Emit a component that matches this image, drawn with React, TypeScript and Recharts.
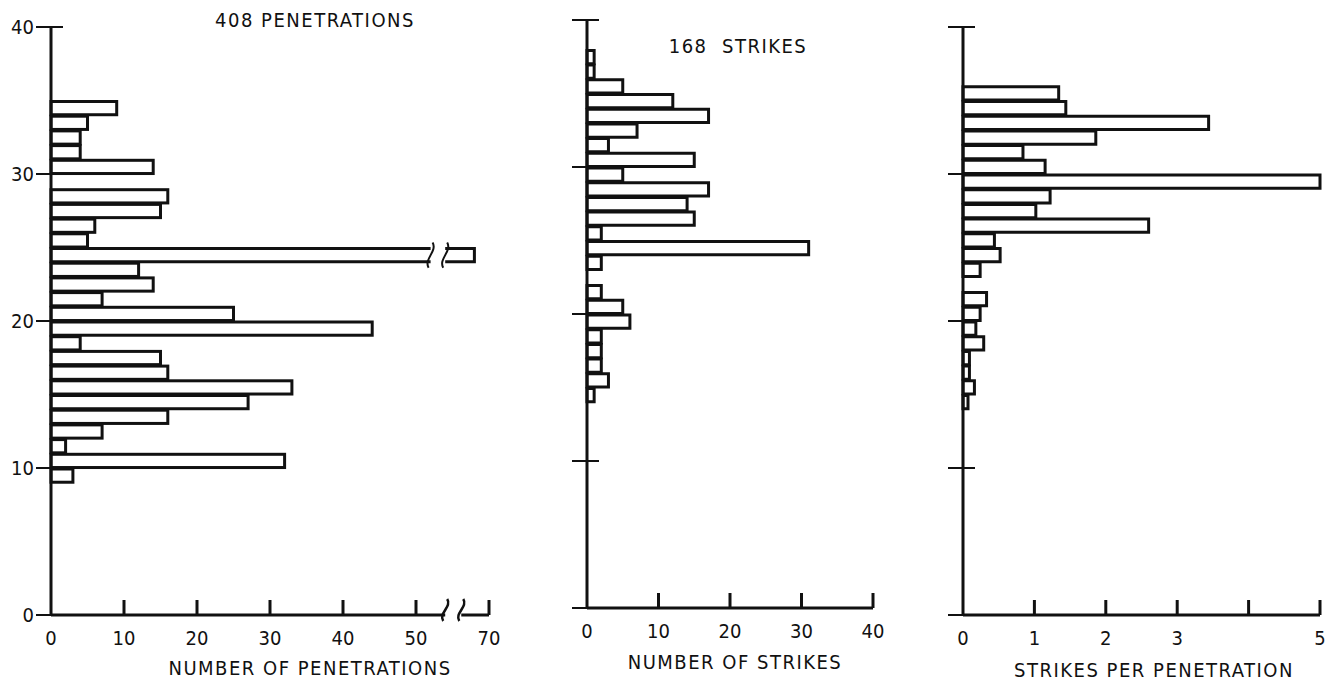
import React from 'react';
import { BarChart, Bar, XAxis, YAxis, ReferenceLine, ReferenceDot } from 'recharts';

// ---------- data (bins of 1 unit, labelled by lower edge) ----------
const binStart = [9, 10, 11, 12, 13, 14, 15, 16, 17, 18, 19, 20, 21, 22, 23, 24, 25, 26, 27, 28, 29, 30, 31, 32, 33, 34, 35, 36, 37];
const penetrations = [3, 32, 2, 7, 16, 27, 33, 16, 15, 4, 44, 25, 7, 14, 12, 68, 5, 6, 15, 16, 0, 14, 4, 4, 5, 9, 0, 0, 0];
const strikes = [0, 0, 0, 0, 0, 1, 3, 2, 2, 2, 6, 5, 2, 0, 2, 31, 2, 15, 14, 17, 5, 15, 3, 7, 17, 12, 5, 1, 1];
const strikesPerPenetration = [0, 0, 0, 0, 0, 0.07, 0.16, 0.09, 0.09, 0.29, 0.18, 0.24, 0.33, 0, 0.24, 0.52, 0.44, 2.6, 1.02, 1.22, 5.0, 1.15, 0.84, 1.86, 3.44, 1.44, 1.34, 0, 0];

const yTicks = [0, 10, 20, 30, 40];
const penTickValues = [0, 10, 20, 30, 40, 50, 70];
const strikeTickValues = [0, 10, 20, 30, 40];
const ratioTickValues = [0, 1, 2, 3, 4, 5];
const ratioTickLabels = ['0', '1', '2', '3', '', '5'];

const titles = {
  pen: '408 PENETRATIONS',
  strikes: '168\u00a0\u00a0STRIKES',
  penAxis: 'NUMBER OF PENETRATIONS',
  strikesAxis: 'NUMBER OF STRIKES',
  ratioAxis: 'STRIKES PER PENETRATION',
};

// broken axis on the penetration chart: values beyond the break are shifted down by 10
const BREAK_AT = 55;
const BREAK_SHIFT = 10;
const toPlot = (v: number) => (v > BREAK_AT ? v - BREAK_SHIFT : v);
const fromPlot = (v: number) => (v > BREAK_AT ? v + BREAK_SHIFT : v);

const penData = binStart.map((b, i) => ({ mid: b + 0.5, value: penetrations[i] ? toPlot(penetrations[i]) : null, raw: penetrations[i] }));
const strikeData = binStart.map((b, i) => ({ mid: b + 0.5, value: strikes[i] || null }));
const ratioData = binStart.map((b, i) => ({ mid: b + 0.5, value: strikesPerPenetration[i] || null }));

const FONT = "'DejaVu Sans Condensed', 'DejaVu Sans', sans-serif";
const INK = '#111';
const PLOT_H = 588;
const BAR = PLOT_H / 40;

const makeYTick = (showLabel: boolean, both: number[]) => (props: any) => {
  const { x, y, payload } = props;
  const v = payload.value;
  const right = both.includes(v) ? 12 : 0;
  return (
    <g>
      <line x1={x - 15} x2={x + right} y1={y} y2={y} stroke={INK} strokeWidth={2} />
      {showLabel && (
        <text x={x - 17} y={y} textAnchor="end" dominantBaseline="central" fontFamily={FONT} fontSize={20} fill={INK} style={{ fontStretch: 'condensed' }}>
          {v}
        </text>
      )}
    </g>
  );
};

const makeXTick = (labelFor: (v: number) => string) => (props: any) => {
  const { x, y, payload } = props;
  const v = payload.value;
  return (
    <g>
      {v !== 0 && <line x1={x} x2={x} y1={y} y2={y - 15} stroke={INK} strokeWidth={3} />}
      <text x={x} y={y + 30} textAnchor="middle" fontFamily={FONT} fontSize={20} fill={INK} style={{ fontStretch: 'condensed' }}>
        {labelFor(v)}
      </text>
    </g>
  );
};

const sCurve = (cx: number, top: number, bottom: number, k = 1) => {
  const h = bottom - top;
  return `M ${cx + 2 * k} ${top} C ${cx + 7 * k} ${top + h * 0.35} ${cx - 7 * k} ${top + h * 0.65} ${cx - 2 * k} ${bottom}`;
};

const PenBarShape = (props: any) => {
  const { x, y, width, height, payload } = props;
  if (!width || !height) return null;
  if (payload.raw > BREAK_AT) {
    const ppu = width / payload.value;
    const b1 = x + 52 * ppu;
    const b2 = x + 54 * ppu;
    return (
      <g>
        <rect x={x} y={y} width={width} height={height} fill="#fff" stroke="none" />
        <path d={`M ${b1} ${y} H ${x} V ${y + height} H ${b1}`} fill="none" stroke={INK} strokeWidth={3} />
        <path d={`M ${b2} ${y} H ${x + width} V ${y + height} H ${b2}`} fill="none" stroke={INK} strokeWidth={3} />
        <path d={sCurve(b1, y - 6, y + height + 6)} fill="none" stroke={INK} strokeWidth={2} />
        <path d={sCurve(b2, y - 6, y + height + 6)} fill="none" stroke={INK} strokeWidth={2} />
      </g>
    );
  }
  return <rect x={x} y={y} width={width} height={height} fill="#fff" stroke={INK} strokeWidth={3} />;
};

const AxisBreak = (props: any) => {
  const { cx, cy } = props;
  return <path d={sCurve(cx, cy - 16, cy + 6)} fill="none" stroke={INK} strokeWidth={2.5} />;
};

const titleStyle = (left: number, top: number): React.CSSProperties => ({
  position: 'absolute',
  left,
  top,
  transform: 'translate(-50%, -50%)',
  fontFamily: FONT,
  fontStretch: 'condensed',
  fontSize: 20,
  letterSpacing: 1.5,
  whiteSpace: 'pre',
  color: INK,
});

export default function App() {
  return (
    <div style={{ position: 'absolute', left: 0, top: 0, width: 1330, height: 684, background: '#fff', overflow: 'hidden' }}>
      {/* Panel 1: penetrations */}
      <div style={{ position: 'absolute', left: 0, top: 0 }}>
        <BarChart width={520} height={684} data={penData} layout="vertical" margin={{ top: 27, bottom: 19, left: 6, right: 31 }}>
          <XAxis
            type="number"
            dataKey="value"
            domain={[0, 60]}
            ticks={penTickValues.map(toPlot)}
            interval={0}
            axisLine={false}
            tickLine={false}
            tickSize={0}
            tickMargin={0}
            height={50}
            tick={makeXTick((v) => String(fromPlot(v)))}
          />
          <YAxis
            type="number"
            dataKey="mid"
            domain={[0, 40]}
            reversed
            ticks={yTicks}
            interval={0}
            width={45}
            axisLine={{ stroke: INK, strokeWidth: 3 }}
            tickLine={false}
            tickSize={0}
            tickMargin={0}
            tick={makeYTick(true, [40])}
          />
          <ReferenceLine segment={[{ x: 0, y: 0 }, { x: 54, y: 0 }]} stroke={INK} strokeWidth={3} />
          <ReferenceLine segment={[{ x: 56.2, y: 0 }, { x: 60, y: 0 }]} stroke={INK} strokeWidth={3} />
          <ReferenceDot x={54} y={0} r={1} shape={AxisBreak} />
          <ReferenceDot x={56.2} y={0} r={1} shape={AxisBreak} />
          <Bar dataKey="value" barSize={BAR} isAnimationActive={false} shape={PenBarShape} />
        </BarChart>
      </div>

      {/* Panel 2: strikes */}
      <div style={{ position: 'absolute', left: 530, top: 0 }}>
        <BarChart width={380} height={684} data={strikeData} layout="vertical" margin={{ top: 20, bottom: 26, left: 12, right: 37 }}>
          <XAxis
            type="number"
            dataKey="value"
            domain={[0, 40]}
            ticks={strikeTickValues}
            interval={0}
            axisLine={{ stroke: INK, strokeWidth: 3 }}
            tickLine={false}
            tickSize={0}
            tickMargin={0}
            height={50}
            tick={makeXTick((v) => String(v))}
          />
          <YAxis
            type="number"
            dataKey="mid"
            domain={[0, 40]}
            reversed
            ticks={yTicks}
            interval={0}
            width={45}
            axisLine={{ stroke: INK, strokeWidth: 3 }}
            tickLine={false}
            tickSize={0}
            tickMargin={0}
            tick={makeYTick(false, [40, 10])}
          />
          <Bar dataKey="value" barSize={BAR} fill="#fff" stroke={INK} strokeWidth={3} isAnimationActive={false} />
        </BarChart>
      </div>

      {/* Panel 3: strikes per penetration */}
      <div style={{ position: 'absolute', left: 910, top: 0 }}>
        <BarChart width={420} height={684} data={ratioData} layout="vertical" margin={{ top: 27, bottom: 19, left: 8, right: 10 }}>
          <XAxis
            type="number"
            dataKey="value"
            domain={[0, 5]}
            ticks={ratioTickValues}
            interval={0}
            axisLine={{ stroke: INK, strokeWidth: 3 }}
            tickLine={false}
            tickSize={0}
            tickMargin={0}
            height={50}
            tick={makeXTick((v) => ratioTickLabels[ratioTickValues.indexOf(v)] ?? '')}
          />
          <YAxis
            type="number"
            dataKey="mid"
            domain={[0, 40]}
            reversed
            ticks={yTicks}
            interval={0}
            width={45}
            axisLine={{ stroke: INK, strokeWidth: 3 }}
            tickLine={false}
            tickSize={0}
            tickMargin={0}
            tick={makeYTick(false, [40, 10])}
          />
          <Bar dataKey="value" barSize={BAR} fill="#fff" stroke={INK} strokeWidth={3} isAnimationActive={false} />
        </BarChart>
      </div>

      <div style={titleStyle(315, 20)}>{titles.pen}</div>
      <div style={titleStyle(738, 46)}>{titles.strikes}</div>
      <div style={titleStyle(310, 668)}>{titles.penAxis}</div>
      <div style={titleStyle(735, 662)}>{titles.strikesAxis}</div>
      <div style={titleStyle(1154, 670)}>{titles.ratioAxis}</div>
    </div>
  );
}
